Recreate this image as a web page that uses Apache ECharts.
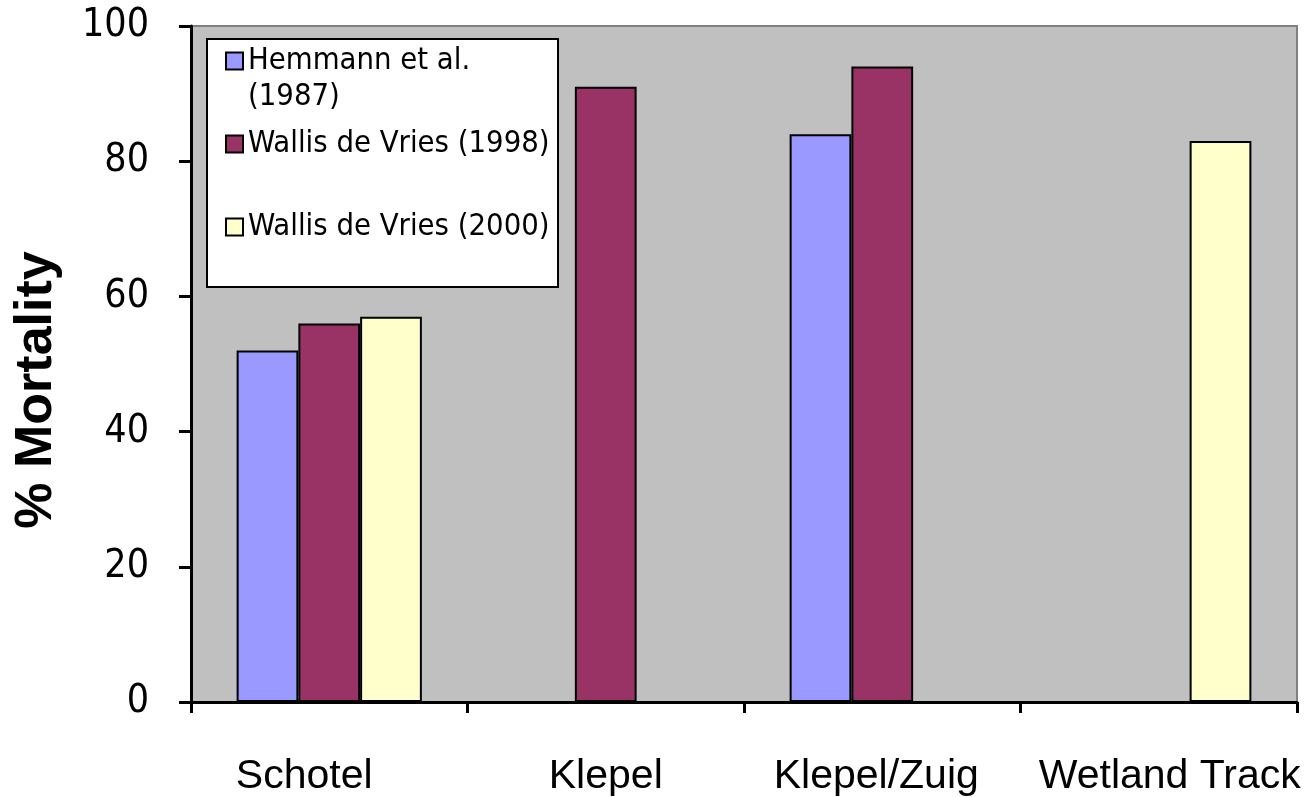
<!DOCTYPE html>
<html>
<head>
<meta charset="utf-8">
<script src="https://cdn.jsdelivr.net/npm/echarts@6/dist/echarts.min.js"></script>
<style>
html,body{margin:0;padding:0;background:#fff;}
#chart{width:1311px;height:797px;}
</style>
</head>
<body>
<div id="chart"></div>
<script>
const categories = ['Schotel', 'Klepel', 'Klepel/Zuig', 'Wetland Track'];
const seriesNames = ['Hemmann et al. (1987)', 'Wallis de Vries (1998)', 'Wallis de Vries (2000)'];
const hemmann1987 = [52, null, 84, null];
const wallis1998 = [56, 91, 94, null];
const wallis2000 = [57, null, null, 83];
const yTicks = [0, 20, 40, 60, 80, 100];
const colors = ['#9999FF', '#993366', '#FFFFCC'];
const legendLabels = {
  'Hemmann et al. (1987)': '\nHemmann et al.\n(1987)',
  'Wallis de Vries (1998)': '\nWallis de Vries (1998)\n',
  'Wallis de Vries (2000)': '\nWallis de Vries (2000)\n'
};
// label padding (layout only) to reproduce the original label placement
const labelPadding = [[0, 50, 0, 0], [0, 0, 0, 0], [0, 12, 0, 0], [0, 0, 0, 22]];

const chart = echarts.init(document.getElementById('chart'), null, {renderer: 'canvas'});
const values = [hemmann1987, wallis1998, wallis2000];
const legendFont = "'DejaVu Sans Condensed', 'Liberation Sans', sans-serif";

chart.setOption({
  animation: false,
  backgroundColor: '#ffffff',
  grid: {
    left: 191, top: 26, right: 14, bottom: 95,
    show: true, backgroundColor: '#C0C0C0', borderColor: '#808080', borderWidth: 2
  },
  graphic: [{
    type: 'rect', left: 206, top: 38, z: 5,
    shape: {width: 351, height: 248},
    style: {fill: '#ffffff', stroke: '#000000', lineWidth: 2}
  }],
  legend: {
    orient: 'vertical', left: 225, top: 7, padding: 0, itemGap: -25,
    itemWidth: 17, itemHeight: 17, z: 10,
    icon: 'rect',
    data: seriesNames,
    formatter: n => legendLabels[n],
    textStyle: {fontFamily: legendFont, fontSize: 30.7, lineHeight: 36, color: '#000'},
    itemStyle: {borderColor: '#000', borderWidth: 2}
  },
  xAxis: {
    type: 'category',
    data: categories.map((c, i) => ({value: c, textStyle: {padding: labelPadding[i]}})),
    axisLine: {lineStyle: {color: '#000', width: 3}},
    axisTick: {show: true, length: 11, lineStyle: {color: '#000', width: 3}},
    axisLabel: {interval: 0, fontFamily: "'Liberation Sans', sans-serif", fontSize: 41, color: '#000', margin: 54}
  },
  yAxis: {
    type: 'value', min: yTicks[0], max: yTicks[yTicks.length - 1], interval: 20,
    name: '% Mortality', nameLocation: 'middle', nameGap: 128, nameRotate: 90,
    nameTextStyle: {fontFamily: "'Liberation Sans', sans-serif", fontWeight: 'bold', fontSize: 52, color: '#000', padding: [0, 52, 0, 0]},
    splitLine: {show: false},
    axisLine: {show: true, lineStyle: {color: '#000', width: 3}},
    axisTick: {show: true, length: 12, lineStyle: {color: '#000', width: 3}},
    axisLabel: {fontFamily: legendFont, fontSize: 39, color: '#000', margin: 42}
  },
  series: seriesNames.map((name, i) => ({
    name: name, type: 'bar', data: values[i],
    barGap: '0%', barCategoryGap: '33%',
    itemStyle: {color: colors[i], borderColor: '#000', borderWidth: 2}
  }))
});
</script>
</body>
</html>
